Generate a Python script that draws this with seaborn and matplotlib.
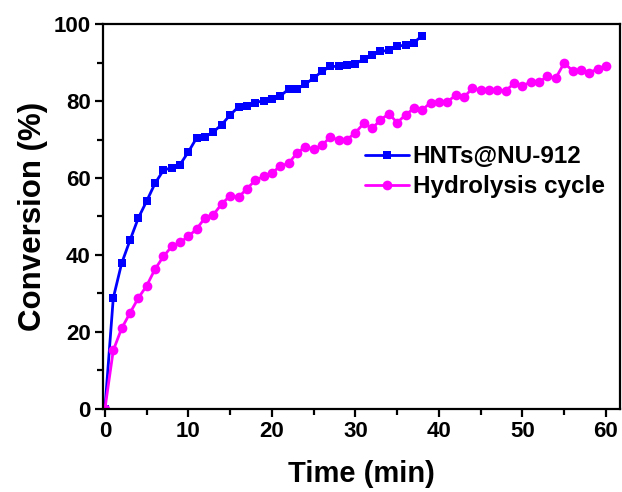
import matplotlib
matplotlib.use("Agg")
import matplotlib.pyplot as plt
from matplotlib.ticker import MultipleLocator
import seaborn as sns
import pandas as pd

blue_t = list(range(0, 39))
blue_y = [0, 28.8, 37.8, 43.8, 49.6, 54.0, 58.6, 62.0, 62.7, 63.5,
          66.8, 70.5, 70.7, 72.0, 73.9, 76.4, 78.5, 78.7, 79.6, 80.1,
          80.5, 81.3, 83.1, 83.1, 84.4, 86.0, 87.7, 89.0, 89.0, 89.3,
          89.7, 90.9, 92.0, 92.9, 93.2, 94.2, 94.6, 95.2, 97.0]

pink_t = list(range(0, 61))
pink_y = [0, 15.2, 20.9, 24.9, 28.8, 32.0, 36.3, 39.6, 42.2, 43.3,
          44.8, 46.8, 49.7, 50.5, 53.3, 55.4, 55.0, 57.2, 59.4, 60.4,
          61.3, 63.1, 63.8, 66.5, 68.1, 67.5, 68.5, 70.7, 69.8, 70.0,
          71.8, 74.2, 72.9, 75.1, 76.7, 74.4, 76.4, 78.1, 77.7, 79.6,
          79.8, 79.8, 81.5, 81.0, 83.3, 82.9, 82.9, 82.9, 82.7, 84.6,
          83.9, 85.0, 85.0, 86.4, 86.0, 89.9, 87.9, 88.1, 87.4, 88.3, 89.2]

labels = ["HNTs@NU-912", "Hydrolysis cycle"]

sns.set_theme(style="ticks")
plt.rcParams['font.family'] = ['Liberation Sans', 'DejaVu Sans']
plt.rcParams['font.weight'] = 'bold'
plt.rcParams['text.color'] = 'black'
plt.rcParams['axes.labelcolor'] = 'black'
plt.rcParams['xtick.color'] = 'black'
plt.rcParams['ytick.color'] = 'black'

df_b = pd.DataFrame({"t": blue_t, "y": blue_y})
df_p = pd.DataFrame({"t": pink_t, "y": pink_y})

fig = plt.figure(figsize=(6.22, 4.92), dpi=100)
ax = fig.add_axes([0.166, 0.169, 0.831, 0.782])

sns.lineplot(data=df_b, x="t", y="y", ax=ax, color="#0000ff", marker="s",
             markersize=6, markeredgewidth=0, linewidth=2.0, label=labels[0])
sns.lineplot(data=df_p, x="t", y="y", ax=ax, color="#ff00ff", marker="o",
             markersize=7, markeredgewidth=0, linewidth=2.0, label=labels[1])

ax.set_xlim(-0.2, 61.7)
ax.set_ylim(0, 100)
ax.xaxis.set_major_locator(MultipleLocator(10))
ax.xaxis.set_minor_locator(MultipleLocator(5))
ax.yaxis.set_major_locator(MultipleLocator(20))
ax.yaxis.set_minor_locator(MultipleLocator(10))

for s in ax.spines.values():
    s.set_linewidth(1.6)
    s.set_color("black")
ax.tick_params(which="major", length=6, width=1.6, direction="out",
               labelsize=16, colors="black", pad=3)
ax.tick_params(which="minor", length=4, width=1.6, direction="out")
for lab in ax.get_xticklabels() + ax.get_yticklabels():
    lab.set_fontweight("bold")

ax.set_xlabel("Time (min)", fontsize=21, fontweight="bold", labelpad=13,
              color="black")
ax.set_ylabel("Conversion (%)", fontsize=22.5, fontweight="bold", labelpad=4,
              color="black")

leg = ax.legend(loc="center left", bbox_to_anchor=(0.507, 0.616),
                frameon=False, borderaxespad=0, borderpad=0,
                handlelength=1.8, handletextpad=0.15, labelspacing=0.3,
                prop={"size": 17.5, "weight": "bold"})
for txt in leg.get_texts():
    txt.set_color("black")

fig.savefig("out.png", dpi=100)
